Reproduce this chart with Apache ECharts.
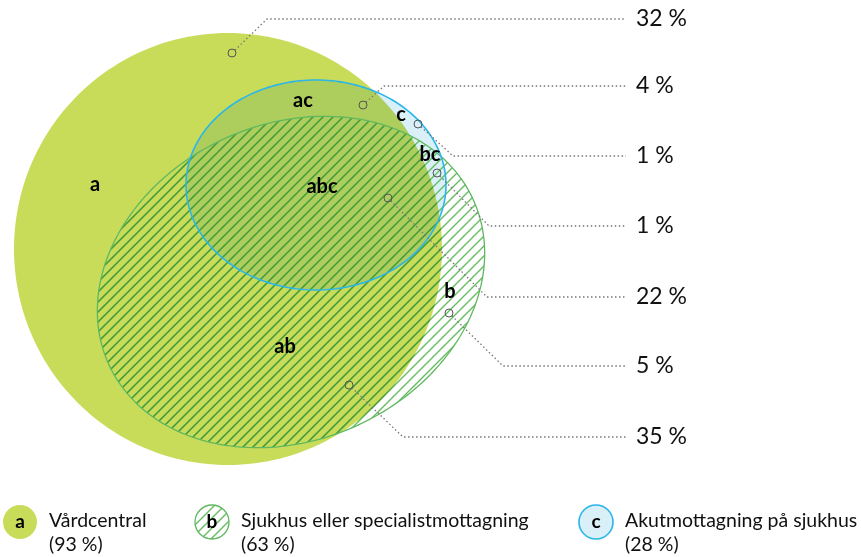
<!DOCTYPE html>
<html>
<head>
<meta charset="utf-8">
<script src="https://cdn.jsdelivr.net/npm/echarts@6/dist/echarts.min.js"></script>
<style>html,body{margin:0;padding:0;background:#fff}#main{width:861px;height:557px}</style>
</head>
<body>
<div id="main"></div>
<script>
// share of respondents in each region of the diagram
var regionNames = ['a', 'ac', 'c', 'bc', 'abc', 'b', 'ab'];
var regionShares = [32, 4, 1, 1, 22, 5, 35];

// the three sets
var setLetters = ['a', 'b', 'c'];
var setNames = ['Vårdcentral', 'Sjukhus eller specialistmottagning', 'Akutmottagning på sjukhus'];
var setShares = [93, 63, 28];

// layout, in the units of the hidden 861 x 557 plane
var shapes = {
  a: {cx: 228, cy: 249, rx: 214, ry: 216, rot: 0},
  b: {cx: 291, cy: 282, rx: 200, ry: 158, rot: 24},
  c: {cx: 316, cy: 185, rx: 130, ry: 105, rot: 0}
};
var labelPos = {a: [95, 185], ac: [303, 101], c: [401, 115], bc: [430, 155], abc: [322, 187], b: [450, 292], ab: [285, 347]};
var markerPos = {a: [232, 53], ac: [363, 105], c: [418, 124], bc: [437, 173], abc: [388, 198], b: [449, 313], ab: [349, 385]};
var bendPos = {a: [267, 19], ac: [384, 86], c: [453, 156], bc: [489, 226], abc: [487, 297], b: [503, 366], ab: [403, 437]};
var lineEndX = 626, pctX = 636;
var legendX = [20, 212, 596], legendY = 522;

var FONT = 'Lato, "Noto Sans", sans-serif';
var GREEN_A = '#c8dc5a', GREEN_AC = '#adcd5c', BLUE_C = '#d9f0f9';

// diagonal hatch tiles for set b (lighter on white, darker on top of a)
function hatchTile(color) {
  var n = 10;
  var cv = document.createElement('canvas');
  cv.width = n; cv.height = n;
  var g = cv.getContext('2d');
  g.strokeStyle = color;
  g.lineWidth = 1.4;
  g.beginPath();
  g.moveTo(-1, n + 1); g.lineTo(n + 1, -1);
  g.moveTo(-1, 1); g.lineTo(1, -1);
  g.moveTo(n - 1, n + 1); g.lineTo(n + 1, n - 1);
  g.stroke();
  return {image: cv, repeat: 'repeat'};
}
var hatchLight = hatchTile('#66bd60');
var hatchDark = hatchTile('#4a9a36');

function ellipsePoints(s, api) {
  var pts = [], t = s.rot * Math.PI / 180;
  for (var k = 0; k < 200; k++) {
    var u = k / 200 * Math.PI * 2;
    var x = s.rx * Math.cos(u), y = s.ry * Math.sin(u);
    pts.push(api.coord([s.cx + x * Math.cos(t) + y * Math.sin(t), s.cy - x * Math.sin(t) + y * Math.cos(t)]));
  }
  return pts;
}

function renderSets(params, api) {
  var pa = ellipsePoints(shapes.a, api);
  var pb = ellipsePoints(shapes.b, api);
  var pc = ellipsePoints(shapes.c, api);
  return {
    type: 'group',
    children: [
      {type: 'polygon', shape: {points: pa}, style: {fill: GREEN_A}},
      {type: 'polygon', shape: {points: pc}, style: {fill: BLUE_C}},
      {type: 'polygon', shape: {points: pc}, style: {fill: GREEN_AC}, clipPath: {type: 'polygon', shape: {points: pa}}},
      {type: 'polygon', shape: {points: pb}, style: {fill: hatchLight}},
      {type: 'polygon', shape: {points: pb}, style: {fill: hatchDark}, clipPath: {type: 'polygon', shape: {points: pa}}},
      {type: 'polygon', shape: {points: pb}, style: {fill: null, stroke: '#5fb85f', lineWidth: 1.3}},
      {type: 'polygon', shape: {points: pc}, style: {fill: null, stroke: '#2ab6ea', lineWidth: 1.6}}
    ]
  };
}

function renderRegion(params, api) {
  var name = regionNames[api.value(0)];
  var share = api.value(1);
  var lp = api.coord(labelPos[name]);
  var mp = api.coord(markerPos[name]);
  var bp = api.coord(bendPos[name]);
  var ep = api.coord([lineEndX, bendPos[name][1]]);
  var tp = api.coord([pctX, bendPos[name][1]]);
  var dx = bp[0] - mp[0], dy = bp[1] - mp[1], d = Math.sqrt(dx * dx + dy * dy);
  var r = 4;
  var start = [mp[0] + dx / d * r, mp[1] + dy / d * r];
  return {
    type: 'group',
    children: [
      {type: 'text', x: lp[0], y: lp[1], style: {text: name, font: 'bold 20px ' + FONT, fill: '#000', align: 'center', verticalAlign: 'middle'}},
      {type: 'polyline', shape: {points: [start, bp, ep]}, style: {fill: null, stroke: '#777', lineWidth: 1.3, lineDash: [1.5, 2.5]}},
      {type: 'circle', shape: {cx: mp[0], cy: mp[1], r: r}, style: {fill: null, stroke: '#555', lineWidth: 1}},
      {type: 'text', x: tp[0], y: tp[1], style: {text: share + ' %', font: '23px ' + FONT, fill: '#111', align: 'left', verticalAlign: 'middle'}}
    ]
  };
}

function renderLegend(params, api) {
  var i = api.value(0);
  var key = setLetters[i];
  var c = api.coord([legendX[i], legendY]);
  var t = api.coord([legendX[i] + 29, legendY]);
  var circleStyle = key === 'a' ? {fill: GREEN_A} :
    key === 'b' ? {fill: hatchLight, stroke: '#5fb85f', lineWidth: 1.3} :
    {fill: BLUE_C, stroke: '#2ab6ea', lineWidth: 1.6};
  return {
    type: 'group',
    children: [
      {type: 'circle', shape: {cx: c[0], cy: c[1], r: 17}, style: circleStyle},
      {type: 'text', x: c[0], y: c[1], style: {text: key, font: 'bold 19px ' + FONT, fill: '#000', align: 'center', verticalAlign: 'middle'}},
      {type: 'text', x: t[0], y: t[1] - 1, style: {text: setNames[i], font: '19.5px ' + FONT, fill: '#111', align: 'left', verticalAlign: 'middle'}},
      {type: 'text', x: t[0], y: t[1] + 23, style: {text: '(' + api.value(1) + ' %)', font: '19.5px ' + FONT, fill: '#111', align: 'left', verticalAlign: 'middle'}}
    ]
  };
}

var myChart = echarts.init(document.getElementById('main'));
myChart.setOption({
  animation: false,
  grid: {left: 0, right: 0, top: 0, bottom: 0},
  xAxis: {type: 'value', min: 0, max: 861, show: false},
  yAxis: {type: 'value', min: 0, max: 557, inverse: true, show: false},
  series: [
    {type: 'custom', renderItem: renderSets, data: [[0]], z: 1, silent: true},
    {type: 'custom', renderItem: renderRegion, data: regionShares.map(function (v, i) { return [i, v]; }), z: 3, silent: true},
    {type: 'custom', renderItem: renderLegend, data: setShares.map(function (v, i) { return [i, v]; }), z: 3, silent: true}
  ]
});
</script>
</body>
</html>
